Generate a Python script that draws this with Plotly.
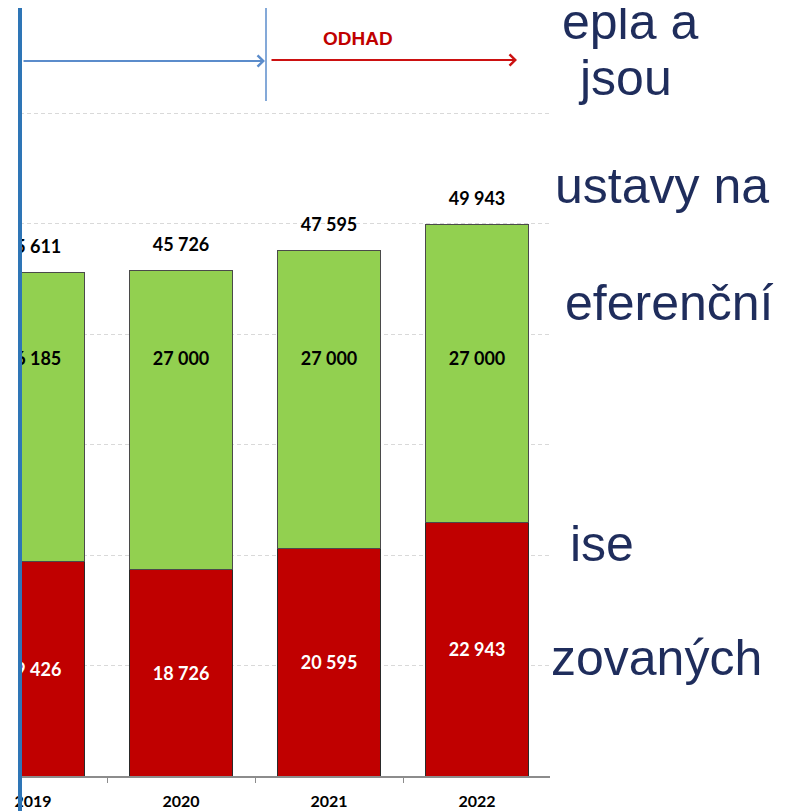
import plotly.graph_objects as go

# ---------------- data ----------------
years = ["2019", "2020", "2021", "2022"]
red_values = [19426, 18726, 20595, 22943]
green_values = [26185, 27000, 27000, 27000]
totals = [r + g for r, g in zip(red_values, green_values)]
slide_lines = ["epla a", "jsou", "ustavy na", "eferenční", "ise", "zovaných"]
arrow_label = "ODHAD"


def fmt(v):
    return f"{v:,}".replace(",", " ")


# ---------------- layout geometry ----------------
OFF = 8                      # page body margin of the html page
W, H = 793 - OFF, 811 - OFF
L, R, T, B = 12, 243, 0, 35
plot_w = W - L - R
plot_h = H - T - B
val_per_px = 10000 / 110.5
Y_MAX = plot_h * val_per_px


def px_x(px):
    return (px - OFF - L) / plot_w


def px_y(py):
    return (H - B - (py - OFF)) / plot_h


GREEN_LABEL_LEVEL = (776 - 360) * val_per_px
TOTAL_GAP = 24 * val_per_px

RED = "#C00000"
GREEN = "#92D050"
NAVY = "#1F2D5C"
LABEL_FONT = "Lato"
SLIDE_FONT_SIZE = 50

fig = go.Figure()

fig.add_trace(go.Bar(
    x=years, y=red_values, width=0.696,
    marker=dict(color=RED, line=dict(color="#2a2a2a", width=1)),
    text=[fmt(v) for v in red_values], textposition="inside",
    insidetextanchor="middle", textangle=0,
    textfont=dict(family=LABEL_FONT, size=18, color="white", weight="bold"),
    hoverinfo="skip", cliponaxis=True,
))
fig.add_trace(go.Bar(
    x=years, y=green_values, width=0.696,
    marker=dict(color=GREEN, line=dict(color="#4a4a4a", width=1)),
    hoverinfo="skip",
))
fig.add_trace(go.Scatter(
    x=years, y=[GREEN_LABEL_LEVEL] * len(years), mode="text",
    text=[fmt(v) for v in green_values], textposition="middle center",
    textfont=dict(family=LABEL_FONT, size=18, color="black", weight="bold"),
    cliponaxis=True, hoverinfo="skip",
))
fig.add_trace(go.Scatter(
    x=years, y=[t + TOTAL_GAP for t in totals], mode="text",
    text=[fmt(v) for v in totals], textposition="middle center",
    textfont=dict(family=LABEL_FONT, size=18, color="black", weight="bold"),
    cliponaxis=True, hoverinfo="skip",
))

shapes = [
    dict(type="line", xref="paper", yref="paper", x0=0, x1=0,
         y0=px_y(830), y1=px_y(-10), line=dict(color="#2E75B6", width=4)),
    dict(type="line", xref="paper", yref="paper", x0=px_x(266), x1=px_x(266),
         y0=px_y(101), y1=px_y(8), line=dict(color="#5B8CCB", width=1.5)),
]

annotations = [
    dict(xref="paper", yref="paper", x=px_x(265), y=px_y(61), ax=-(265 - 22), ay=0,
         text="", showarrow=True, arrowhead=4, arrowsize=1.1, arrowwidth=2,
         arrowcolor="#5B8CCB"),
    dict(xref="paper", yref="paper", x=px_x(517), y=px_y(60), ax=-(517 - 270), ay=0,
         text="", showarrow=True, arrowhead=4, arrowsize=1.1, arrowwidth=2,
         arrowcolor="#CC1111"),
    dict(xref="paper", yref="paper", x=px_x(358), y=px_y(38), text=f"<b>{arrow_label}</b>",
         showarrow=False, xanchor="center", yanchor="middle",
         font=dict(family="Liberation Sans", size=19, color=RED)),
]

line_x = [561, 577, 554, 564, 569, 550]
line_baseline = [41, 97, 205, 322, 563, 677]
for txt, lx, bl in zip(slide_lines, line_x, line_baseline):
    annotations.append(dict(
        xref="paper", yref="paper", x=px_x(lx), y=px_y(bl - 19), text=txt,
        showarrow=False, xanchor="left", yanchor="middle", borderpad=0,
        font=dict(family="Liberation Sans", size=SLIDE_FONT_SIZE, color=NAVY),
    ))

fig.update_layout(
    width=W, height=H,
    margin=dict(l=L, r=R, t=T, b=B, pad=0),
    barmode="stack", bargap=0.3,
    showlegend=False,
    paper_bgcolor="white", plot_bgcolor="white",
    xaxis=dict(type="category", range=[-0.088, 3.493], showline=True,
               linecolor="#8C8C8C", linewidth=1.5, ticks="outside",
               tickson="boundaries", ticklen=5, tickcolor="#8C8C8C",
               ticklabelstandoff=10,
               tickfont=dict(family=LABEL_FONT, size=16, color="black", weight="bold"),
               showgrid=False, zeroline=False, fixedrange=True),
    yaxis=dict(range=[0, Y_MAX], dtick=10000, showgrid=True,
               griddash="4px,3px", gridcolor="#D9D9D9", gridwidth=1,
               showticklabels=False, zeroline=False, showline=False, ticks="",
               fixedrange=True),
    shapes=shapes,
    annotations=annotations,
)

fig.write_html("out.html")
